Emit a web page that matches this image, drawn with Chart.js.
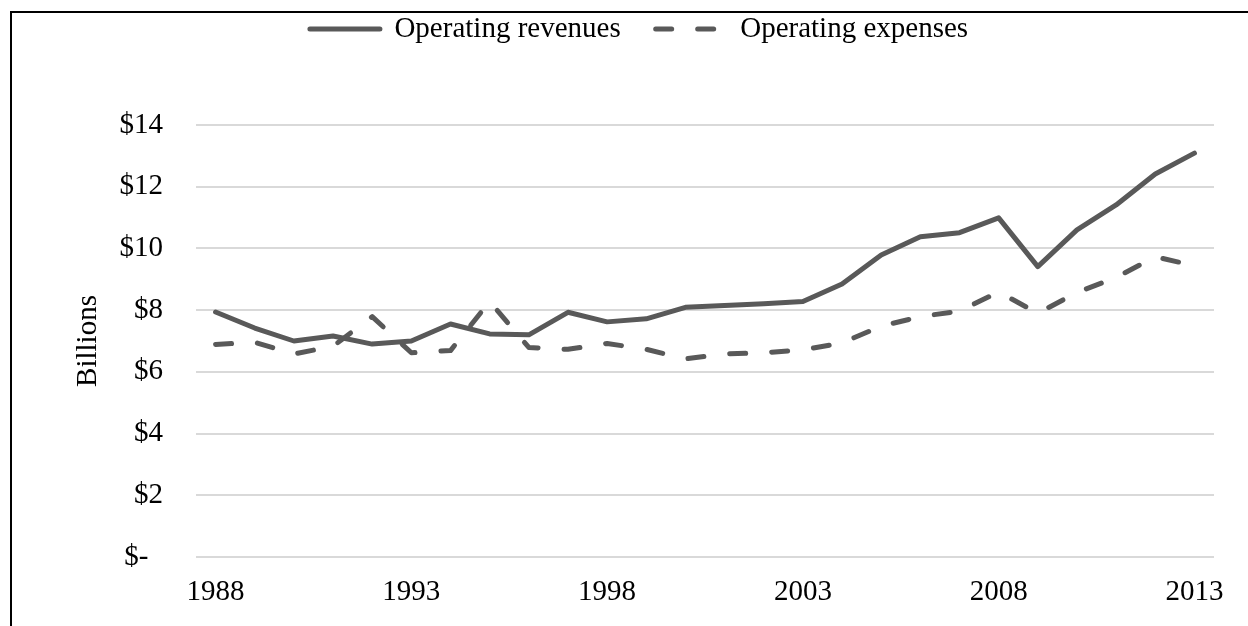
<!DOCTYPE html>
<html>
<head>
<meta charset="utf-8">
<script src="https://cdn.jsdelivr.net/npm/chart.js@4.4.1/dist/chart.umd.min.js"></script>
<style>
  html, body { margin: 0; padding: 0; background: #fff; overflow: hidden; }
  #frame { position: absolute; left: 10px; top: 11px; width: 1400px; height: 800px;
           border-left: 2px solid #000; border-top: 2px solid #000; pointer-events: none; }
  canvas { position: absolute; left: 0; top: 0; }
</style>
</head>
<body>
<canvas id="chart" width="1248" height="626"></canvas>
<div id="frame"></div>
<script>
const years = ['1988', '1989', '1990', '1991', '1992', '1993', '1994', '1995', '1996', '1997',
  '1998', '1999', '2000', '2001', '2002', '2003', '2004', '2005', '2006', '2007',
  '2008', '2009', '2010', '2011', '2012', '2013'];
const revenues = [7.94, 7.42, 7.00, 7.16, 6.90, 7.00, 7.55, 7.23, 7.20, 7.93,
  7.62, 7.72, 8.09, 8.15, 8.21, 8.28, 8.85, 9.79, 10.38, 10.51,
  10.99, 9.41, 10.60, 11.41, 12.41, 13.09];
const expenses = [6.89, 6.96, 6.58, 6.83, 7.79, 6.62, 6.69, 8.28, 6.79, 6.73,
  6.92, 6.73, 6.42, 6.58, 6.62, 6.71, 6.94, 7.48, 7.79, 7.97,
  8.59, 7.90, 8.57, 9.06, 9.73, 9.44];
const xTickLabels = ['1988', '1993', '1998', '2003', '2008', '2013'];
const yTickLabels = ['$-  ', '$2', '$4', '$6', '$8', '$10', '$12', '$14'];

const serif = "'Liberation Serif', 'Times New Roman', serif";
const lineColor = '#595959';

// keep the legend at the top but leave the gap Excel leaves above the plot
const legendSpace = {
  id: 'legendSpace',
  beforeLayout(chart) {
    const legend = chart.legend;
    if (legend && !legend._spaced) {
      const fit = legend.fit.bind(legend);
      legend.fit = () => { fit(); legend.height = 145.5; };
      legend._spaced = true;
    }
  }
};

new Chart(document.getElementById('chart'), {
  type: 'line',
  data: {
    labels: years,
    datasets: [
      {
        label: 'Operating revenues',
        data: revenues,
        borderColor: lineColor,
        backgroundColor: lineColor,
        borderWidth: 5,
        borderCapStyle: 'round',
        borderJoinStyle: 'round',
        pointRadius: 0,
        tension: 0,
      },
      {
        label: 'Operating expenses',
        data: expenses,
        borderColor: lineColor,
        backgroundColor: lineColor,
        borderWidth: 5,
        borderDash: [16, 26],
        borderCapStyle: 'round',
        borderJoinStyle: 'round',
        pointRadius: 0,
        tension: 0,
      },
    ],
  },
  options: {
    responsive: false,
    animation: false,
    layout: { padding: { left: 64, right: 34, top: -20.5, bottom: 0 } },
    plugins: {
      legend: {
        position: 'top',
        labels: {
          usePointStyle: true,
          pointStyle: 'line',
          pointStyleWidth: 70,
          boxWidth: 70,
          padding: 35,
          color: '#000',
          font: { family: serif, size: 29 },
          generateLabels(chart) {
            const items = Chart.defaults.plugins.legend.labels.generateLabels(chart);
            items.forEach((item) => {
              const ds = chart.data.datasets[item.datasetIndex];
              item.lineWidth = ds.borderWidth;
              item.lineDash = ds.borderDash || [];
              item.lineCap = 'round';
              item.strokeStyle = ds.borderColor;
            });
            return items;
          },
        },
      },
      tooltip: { enabled: false },
    },
    scales: {
      x: {
        offset: true,
        grid: { display: false },
        border: { display: false },
        ticks: {
          autoSkip: false,
          maxRotation: 0,
          padding: 10,
          color: '#000',
          font: { family: serif, size: 29 },
          callback: (value, index) => xTickLabels.includes(years[index]) ? years[index] : null,
        },
        afterFit: (scale) => { scale.height = 69; },
      },
      y: {
        min: 0,
        max: 14,
        ticks: {
          stepSize: 2,
          padding: 33,
          color: '#000',
          font: { family: serif, size: 29 },
          callback: (value) => yTickLabels[value / 2],
        },
        grid: { color: '#d9d9d9', lineWidth: 2, drawTicks: false },
        border: { display: false },
        title: {
          display: true,
          text: 'Billions',
          color: '#000',
          font: { family: serif, size: 29 },
          padding: { top: 7, bottom: 0 },
        },
        afterFit: (scale) => { scale.width = 132; },
      },
    },
  },
  plugins: [legendSpace],
});
</script>
</body>
</html>
